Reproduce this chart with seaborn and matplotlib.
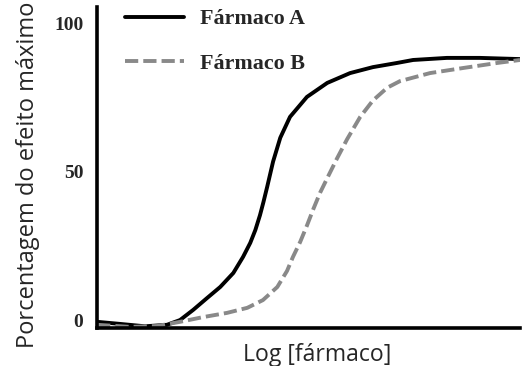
import numpy as np
import pandas as pd
import matplotlib
matplotlib.use("Agg")
import matplotlib.pyplot as plt
import seaborn as sns

# Curve values (x = log dose, arbitrary units; y = % of max effect)
x_a = [0.0, 0.54, 1.13, 1.65, 1.96, 2.27, 2.60, 2.91, 3.22, 3.45, 3.62, 3.74, 3.85, 3.93,
       4.02, 4.16, 4.33, 4.56, 4.96, 5.44, 5.98, 6.52, 7.09, 7.47, 8.27, 9.05, 10.0]
y_a = [-0.3, -1.0, -1.8, -1.3, 0.3, 3.7, 7.7, 11.4, 16.1, 21.5, 26.2, 30.5, 35.5, 39.8,
       45.0, 53.5, 61.5, 68.5, 75.2, 79.9, 83.2, 85.2, 86.6, 87.6, 88.3, 88.3, 87.9]

x_b = [0.0, 0.78, 1.42, 1.96, 2.51, 3.07, 3.55, 3.92, 4.26, 4.49, 4.63, 4.80, 4.96, 5.11,
       5.27, 5.46, 5.67, 5.91, 6.22, 6.52, 6.86, 7.16, 7.87, 8.65, 9.46, 10.0]
y_b = [-1.3, -2.0, -1.7, -0.3, 1.3, 2.7, 4.4, 7.0, 11.4, 16.8, 21.5, 26.5, 32.0, 37.5,
       43.0, 48.5, 54.5, 61.0, 68.5, 74.0, 78.3, 80.5, 83.2, 84.9, 86.6, 87.6]

drug_labels = ["Fármaco A", "Fármaco B"]
y_ticks = [0, 50, 100]

sns.set_style("white")
serif = ["Liberation Serif", "DejaVu Serif"]
sans = ["Open Sans", "DejaVu Sans"]

fig = plt.figure(figsize=(5.28, 3.66), dpi=100)
ax = fig.add_axes([0.184, 0.104, 0.801, 0.877])

sns.lineplot(x=x_a, y=y_a, ax=ax, color="black", linewidth=2.8, label=drug_labels[0])
sns.lineplot(x=x_b, y=y_b, ax=ax, color="#898989", linewidth=2.8, label=drug_labels[1],
             linestyle=(0, (3.4, 1.3)))

ax.set_xlim(0, 10)
ax.set_ylim(-2.35, 105.4)
ax.set_xticks([])
ax.set_yticks(y_ticks)
ax.set_yticklabels([str(t) for t in y_ticks], family=serif, fontweight="bold", fontsize=14)
ax.tick_params(axis="y", length=0, pad=10)

for side in ["top", "right"]:
    ax.spines[side].set_visible(False)
for side in ["left", "bottom"]:
    ax.spines[side].set_color("black")
    ax.spines[side].set_linewidth(2.6)

ax.set_ylabel("Porcentagem do efeito máximo", family=sans, fontsize=17, labelpad=10)
ax.yaxis.label.set_y(0.477)
ax.set_xlabel("Log [fármaco]", family=sans, fontsize=16.6, labelpad=11)
ax.xaxis.label.set_x(0.52)

leg = ax.legend(loc="upper left", bbox_to_anchor=(0.066, 0.994), frameon=False,
                handlelength=2.7, handletextpad=0.7, labelspacing=1.09,
                borderpad=0, borderaxespad=0,
                prop={"family": serif, "weight": "bold", "size": 15.8})

fig.savefig("out.png", dpi=100)
